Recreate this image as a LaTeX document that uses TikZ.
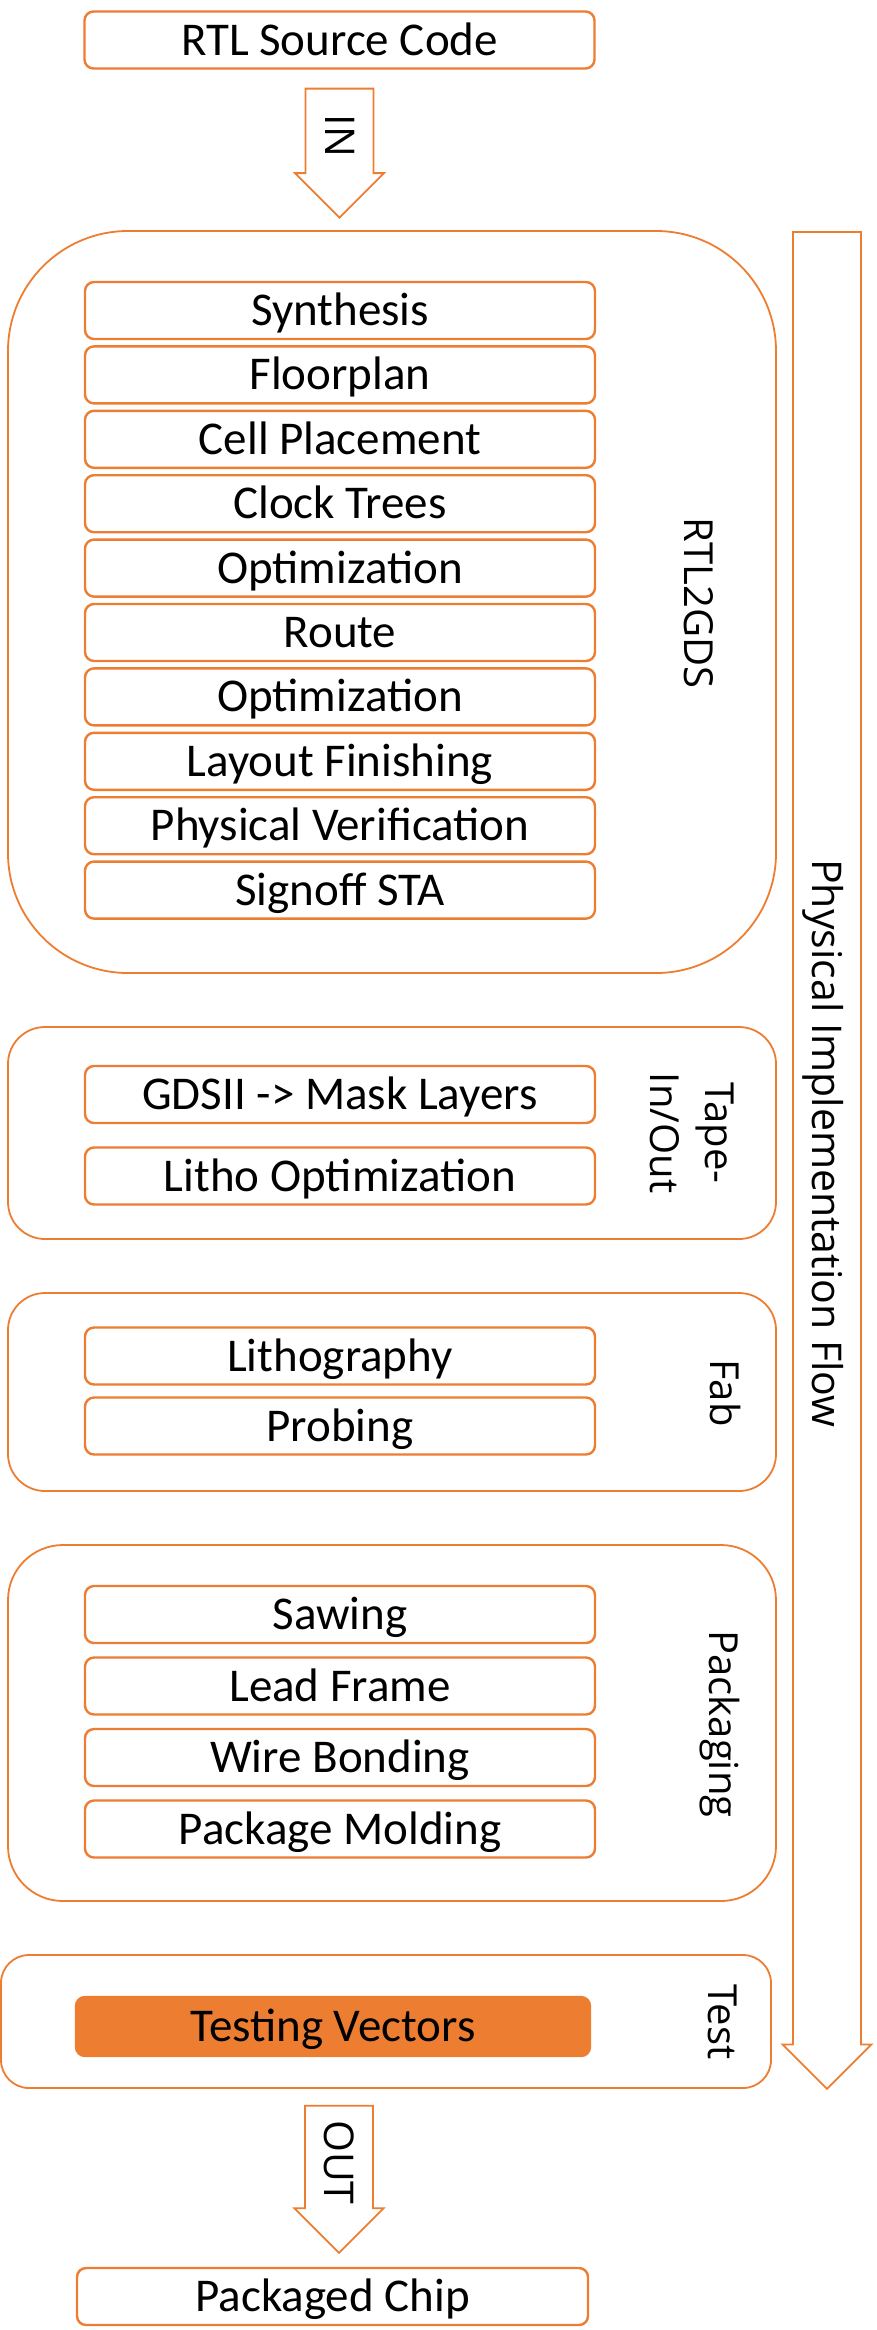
\documentclass[tikz,border=0pt]{standalone}
\usepackage{fontspec}
\setmainfont{Carlito}
\newfontfamily\sidefont{Open Sans}
\usetikzlibrary{positioning,calc,shapes.arrows}

\definecolor{flow}{HTML}{ED7D31}

\begin{document}
\begin{tikzpicture}[x=1pt,y=-1pt,node distance=64.4pt,on grid,
  stepbox/.style={draw=flow,line width=2.4pt,rounded corners=9pt,
    minimum width=510pt,minimum height=57pt,inner sep=0pt,
    text height=38pt,text depth=8pt,font=\fontsize{47}{52}\selectfont},
  stage/.style={draw=flow,line width=1.8pt,inner sep=0pt},
  stagelabel/.style={rotate=-90,align=center,font=\sidefont\fontsize{40}{55}\selectfont},
  flowarrow/.style={single arrow,draw=flow,line width=1.8pt,rotate=-90,anchor=tail,
    single arrow tip angle=90,minimum width=89pt,inner ysep=0pt,
    text height=36.5pt,text depth=8pt,font=\sidefont\fontsize{41}{46}\selectfont}]
  \useasboundingbox (0,0) rectangle (876,2330);

  % input and the overall flow arrow
  \node[stepbox] (src) at (339.5,40) {RTL Source Code};
  \node[flowarrow,minimum height=129pt] (in) at ($(src.south)+(0,18)$) {IN};
  \node[flowarrow,minimum height=1857pt] (phys) at (827,231) {Physical Implementation Flow};

  % RTL2GDS
  \node[stage,rounded corners=120pt,minimum width=768pt,minimum height=742pt] (rtl) at (392,602) {};
  \node[stagelabel] at (699,603) {RTL2GDS};
  \node[stepbox] (synth) at (340,310.5) {Synthesis};
  \node[stepbox] (floor) [below=of synth] {Floorplan};
  \node[stepbox] (place) [below=of floor] {Cell Placement};
  \node[stepbox] (cts) [below=of place] {Clock Trees};
  \node[stepbox] (opt1) [below=of cts] {Optimization};
  \node[stepbox] (route) [below=of opt1] {Route};
  \node[stepbox] (opt2) [below=of route] {Optimization};
  \node[stepbox] (finish) [below=of opt2] {Layout Finishing};
  \node[stepbox] (pv) [below=of finish] {Physical Verification};
  \node[stepbox] (sta) [below=of pv] {Signoff STA};

  % tape-in/out
  \node[stage,rounded corners=37pt,minimum width=768pt,minimum height=212pt] (tape) at (392,1133) {};
  \node[stagelabel] at (692,1133) {Tape-\\In/Out};
  \node[stepbox] (gds) at (340,1094.5) {GDSII -> Mask Layers};
  \node[stepbox] (opc) [below=81.5pt of gds] {Litho Optimization};

  % fab
  \node[stage,rounded corners=37pt,minimum width=768pt,minimum height=198pt] (fab) at (392,1392) {};
  \node[stagelabel] at (725,1393) {Fab};
  \node[stepbox] (litho) at (340,1356) {Lithography};
  \node[stepbox] (probe) [below=70pt of litho] {Probing};

  % packaging
  \node[stage,rounded corners=55pt,minimum width=768pt,minimum height=356pt] (pack) at (392,1723) {};
  \node[stagelabel] at (720,1724) {Packaging};
  \node[stepbox] (saw) at (340,1614.5) {Sawing};
  \node[stepbox] (lead) [below=71.5pt of saw] {Lead Frame};
  \node[stepbox] (bond) [below=71.5pt of lead] {Wire Bonding};
  \node[stepbox] (mold) [below=71.5pt of bond] {Package Molding};

  % test and output
  \node[stage,rounded corners=28pt,minimum width=770pt,minimum height=133pt] (test) at (386,2021.5) {};
  \node[stagelabel] at (723,2022) {Test};
  \node[stepbox,fill=flow,minimum width=514pt,minimum height=59pt] (vec) at (333,2026.5) {Testing Vectors};
  \node[flowarrow,minimum height=147pt] (out) at ($(test.south)+(-47,16)$) {OUT};
  \node[stepbox,minimum width=511pt] (chip) at (332.5,2296.5) {Packaged Chip};
\end{tikzpicture}
\end{document}
